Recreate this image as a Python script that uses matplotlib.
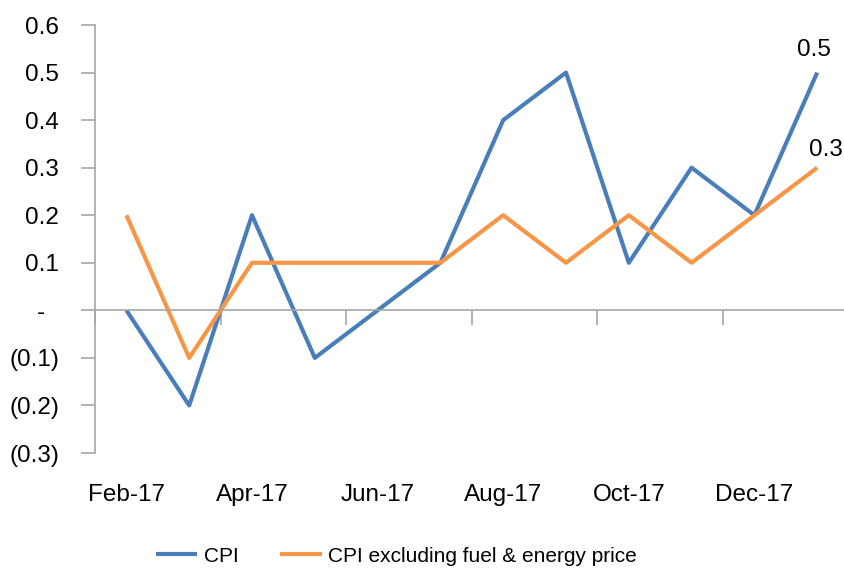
import matplotlib
matplotlib.use("Agg")
import matplotlib.pyplot as plt
from matplotlib import font_manager
import matplotlib.transforms as mtransforms

months = ["Feb-17", "Mar-17", "Apr-17", "May-17", "Jun-17", "Jul-17",
          "Aug-17", "Sep-17", "Oct-17", "Nov-17", "Dec-17", "Jan-18"]
cpi = [0.0, -0.2, 0.2, -0.1, 0.0, 0.1, 0.4, 0.5, 0.1, 0.3, 0.2, 0.5]
core = [0.2, -0.1, 0.1, 0.1, 0.1, 0.1, 0.2, 0.1, 0.2, 0.1, 0.2, 0.3]
yticks = [-0.3, -0.2, -0.1, 0.0, 0.1, 0.2, 0.3, 0.4, 0.5, 0.6]
ytick_labels = ["(0.3)", "(0.2)", "(0.1)", "-  ", "0.1", "0.2", "0.3", "0.4", "0.5", "0.6"]

names = {f.name for f in font_manager.fontManager.ttflist}
fam = "Liberation Sans Narrow" if "Liberation Sans Narrow" in names else "Liberation Sans"
plt.rcParams["font.family"] = [fam, "DejaVu Sans"]
narrow = fam == "Liberation Sans Narrow"
FS = 21 if narrow else 17.5
LFS = 21 if narrow else 15

blue = "#4A7EBB"
orange = "#F79646"
grey = "#A6A6A6"

fig = plt.figure(figsize=(8.45, 5.73), dpi=100)
ax = fig.add_axes([95/845, 1-453/573, 753.6/845, 428/573])
x = list(range(len(months)))
ax.plot(x, cpi, color=blue, lw=3.0, label="CPI", solid_capstyle="butt")
ax.plot(x, core, color=orange, lw=3.0, label="CPI excluding fuel & energy price", solid_capstyle="butt")

ax.set_xlim(-0.5, 11.5)
ax.set_ylim(-0.3, 0.6)
ax.set_yticks(yticks)
ax.set_yticklabels(ytick_labels, fontsize=FS)
ax.tick_params(axis="y", length=10, width=1.2, color=grey, pad=16)

for s in ["top", "right"]:
    ax.spines[s].set_visible(False)
ax.spines["left"].set_color(grey)
ax.spines["left"].set_linewidth(1.2)
ax.spines["bottom"].set_position(("data", 0))
ax.spines["bottom"].set_color(grey)
ax.spines["bottom"].set_linewidth(1.2)
ax.set_xticks([i - 0.5 for i in range(0, 13, 2)])
ax.set_xticklabels([])
ax.tick_params(axis="x", length=11, width=1.2, color=grey, direction="out")

trans = mtransforms.blended_transform_factory(ax.transData, ax.transAxes)
for i in range(0, len(months), 2):
    ax.text(i, -0.097, months[i], transform=trans, ha="center", va="center", fontsize=FS)

ax.annotate(f"{cpi[-1]:.1f}", (x[-1], cpi[-1]), xytext=(-2, 16), textcoords="offset points",
            ha="center", va="center", fontsize=FS)
ax.annotate(f"{core[-1]:.1f}", (x[-1], core[-1]), xytext=(6.5, 12.5), textcoords="offset points",
            ha="center", va="center", fontsize=FS)

fig.legend(loc="center", bbox_to_anchor=(0.469, 1 - 556/573), ncol=2, frameon=False,
           fontsize=LFS, handlelength=2.0, handletextpad=0.3, columnspacing=2.0)

fig.savefig("out.png", dpi=100)
